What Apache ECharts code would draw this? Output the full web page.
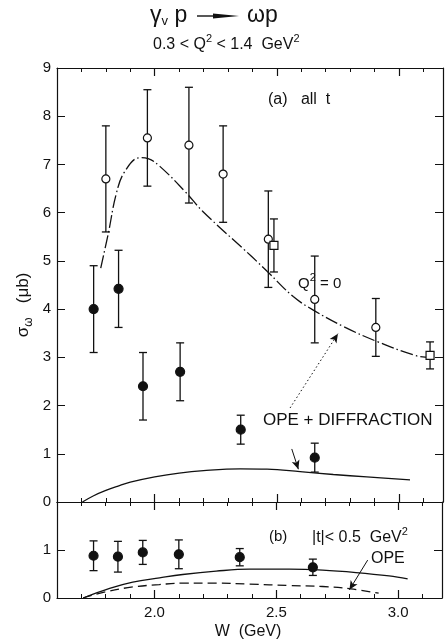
<!DOCTYPE html>
<html>
<head>
<meta charset="utf-8">
<script src="https://cdn.jsdelivr.net/npm/echarts@6/dist/echarts.min.js"></script>
<style>
html, body { margin: 0; padding: 0; background: #fff; }
#main { width: 445px; height: 643px; }
</style>
</head>
<body>
<div id="main"></div>
<script>
/* ---------------- data ---------------- */
// (a) 0.3 < Q2 < 1.4, open circles
var openW = [1.80, 1.97, 2.14, 2.28, 2.465, 2.655, 2.905];
var openS = [6.70, 7.55, 7.40, 6.80, 5.45, 4.20, 3.62];
var openErr = [1.10, 1.00, 1.20, 1.00, 1.00, 0.90, 0.60];
// (a) Q2 = 0, open squares
var sqW = [2.488, 3.127];
var sqS = [5.32, 3.04];
var sqErr = [0.55, 0.28];
// (a) filled circles
var fillW = [1.75, 1.852, 1.952, 2.104, 2.352, 2.655];
var fillS = [4.00, 4.42, 2.40, 2.70, 1.50, 0.92];
var fillErr = [0.90, 0.80, 0.70, 0.60, 0.30, 0.30];
// (b) |t| < 0.5
var bW = [1.75, 1.85, 1.952, 2.10, 2.35, 2.65];
var bS = [0.88, 0.86, 0.95, 0.91, 0.85, 0.64];
var bErr = [0.31, 0.32, 0.25, 0.30, 0.18, 0.17];
// curves
var diffW = [1.779, 1.81, 1.843, 1.877, 1.939, 1.973, 2.021, 2.124, 2.198, 2.397, 2.461, 2.567, 2.649, 2.772, 2.909, 3.073, 3.127];
var diffS = [4.85, 5.57, 6.40, 6.85, 7.14, 7.12, 6.96, 6.44, 6.02, 5.09, 4.78, 4.26, 3.98, 3.64, 3.33, 3.03, 3.00];
var opeAW = [1.704, 1.75, 1.80, 1.85, 1.90, 2.0, 2.1, 2.2, 2.35, 2.46, 2.595, 2.731, 2.868, 3.045];
var opeAS = [0.0, 0.13, 0.24, 0.33, 0.41, 0.52, 0.60, 0.65, 0.685, 0.68, 0.63, 0.57, 0.52, 0.46];
var totBW = [1.707, 1.816, 1.911, 2.021, 2.116, 2.253, 2.39, 2.553, 2.69, 2.827, 2.963, 3.039];
var totBS = [0.0, 0.20, 0.33, 0.42, 0.49, 0.56, 0.60, 0.60, 0.58, 0.53, 0.46, 0.40];
var opeBW = [1.707, 1.80, 1.911, 2.02, 2.116, 2.253, 2.39, 2.553, 2.69, 2.806, 2.92];
var opeBS = [0.0, 0.13, 0.23, 0.28, 0.31, 0.31, 0.29, 0.26, 0.24, 0.19, 0.10];
var xMajor = [2.0, 2.5, 3.0];

var ink = '#111';
var font = 'Liberation Sans';

function zip(a, b, c) {
  return a.map(function (v, i) { return c ? [v, b[i], c[i]] : [v, b[i]]; });
}

// x axes: main (minor ticks every 0.1) + overlay with long major ticks
function xAxes(grid, pos, labels) {
  return [{
    type: 'value', gridIndex: grid, position: pos, min: 1.6, max: 3.18, interval: 0.1,
    axisLine: { show: true, lineStyle: { color: ink, width: 1.2 } },
    axisTick: { show: true, inside: true, length: 4, lineStyle: { color: ink, width: 1 } },
    axisLabel: {
      show: labels, color: ink, fontSize: 15, fontFamily: font, margin: 7,
      formatter: function (v) {
        for (var i = 0; i < xMajor.length; i++) if (Math.abs(v - xMajor[i]) < 1e-6) return v.toFixed(1);
        return '';
      }
    },
    splitLine: { show: false }
  }, {
    type: 'value', gridIndex: grid, position: pos, min: 1.6, max: 3.18, interval: 0.1,
    axisLine: { show: false },
    axisTick: { show: true, inside: true, length: 8, customValues: xMajor, lineStyle: { color: ink, width: 1.2 } },
    axisLabel: { show: false },
    splitLine: { show: false }
  }];
}

function yAxis(grid, pos, max, labels) {
  return {
    type: 'value', gridIndex: grid, position: pos, min: 0, max: max, interval: 1,
    axisLine: { show: true, lineStyle: { color: ink, width: 1.2 } },
    axisTick: { show: true, inside: true, length: 8, lineStyle: { color: ink, width: 1 } },
    axisLabel: {
      show: labels, color: ink, fontSize: 15, fontFamily: font, margin: 6,
      formatter: function (v) { return (grid === 1 && v === 2) ? '' : String(v); }
    },
    splitLine: { show: false }
  };
}

function errBars(data, xi, yi) {
  return {
    type: 'custom', xAxisIndex: xi, yAxisIndex: yi, data: data, z: 2,
    renderItem: function (params, api) {
      var x = api.value(0), y = api.value(1), e = api.value(2);
      var t = api.coord([x, y + e]), b = api.coord([x, y - e]);
      var st = { stroke: ink, lineWidth: 1.3 };
      return {
        type: 'group', children: [
          { type: 'line', shape: { x1: t[0], y1: t[1], x2: b[0], y2: b[1] }, style: st },
          { type: 'line', shape: { x1: t[0] - 4, y1: t[1], x2: t[0] + 4, y2: t[1] }, style: st },
          { type: 'line', shape: { x1: b[0] - 4, y1: b[1], x2: b[0] + 4, y2: b[1] }, style: st }
        ]
      };
    }
  };
}

function pts(data, xi, yi, symbol, size, fill) {
  return {
    type: 'scatter', xAxisIndex: xi, yAxisIndex: yi, data: data, z: 3,
    symbol: symbol, symbolSize: size,
    itemStyle: { color: fill, borderColor: ink, borderWidth: 1.2, opacity: 1 }
  };
}

function curve(data, xi, yi, type, extra) {
  var s = {
    type: 'line', xAxisIndex: xi, yAxisIndex: yi, data: data, smooth: 0.4,
    showSymbol: false, symbol: 'none', z: 1,
    lineStyle: { color: ink, width: 1.3, type: type }
  };
  if (extra) s.markLine = extra;
  return s;
}

function arrowLine(from, to, type) {
  return {
    silent: true, symbol: ['none', 'arrow'], symbolSize: [6, 9], label: { show: false },
    lineStyle: { color: ink, width: 1, type: type },
    data: [[{ coord: from }, { coord: to }]]
  };
}

function txt(x, y, text, size, rich, align) {
  var st = { text: text, x: 0, y: 0, fill: ink, font: size + 'px "' + font + '"', textVerticalAlign: 'middle', textAlign: align || 'left' };
  if (rich) st.rich = rich;
  return { type: 'text', x: x, y: y, style: st, z: 10 };
}

var sup = { fontSize: 11, fontFamily: font, verticalAlign: 'top', lineHeight: 11, fill: ink };
var nrm = function (s) { return { fontSize: s, fontFamily: font, verticalAlign: 'bottom', lineHeight: s + 4, fill: ink }; };

var yName = txt(25, 305, '{n|σ}{s|ω}{n|   (μb)}', 16, {
  n: { fontSize: 17, fontFamily: font, verticalAlign: 'top', lineHeight: 20, fill: ink },
  s: { fontSize: 12, fontFamily: font, verticalAlign: 'bottom', lineHeight: 12, fill: ink }
}, 'center');
yName.rotation = Math.PI / 2;

var chart = echarts.init(document.getElementById('main'));
var option = {
  animation: false,
  backgroundColor: '#fff',
  grid: [
    { left: 57, top: 68, width: 386, height: 434 },
    { left: 57, top: 502, width: 386, height: 96 }
  ],
  xAxis: [].concat(xAxes(0, 'bottom', false), xAxes(0, 'top', false), xAxes(1, 'bottom', true), xAxes(1, 'top', false)),
  yAxis: [yAxis(0, 'left', 9, true), yAxis(0, 'right', 9, false), yAxis(1, 'left', 2, true), yAxis(1, 'right', 2, false)],
  series: [
    curve(zip(diffW, diffS), 0, 0, [13, 3, 1.5, 3], arrowLine([2.554, 1.95], [2.75, 3.49], [1.5, 2.5])),
    curve(zip(opeAW, opeAS), 0, 0, 'solid', arrowLine([2.561, 1.10], [2.588, 0.68], 'solid')),
    errBars(zip(openW, openS, openErr), 0, 0),
    errBars(zip(sqW, sqS, sqErr), 0, 0),
    errBars(zip(fillW, fillS, fillErr), 0, 0),
    pts(zip(openW, openS), 0, 0, 'circle', 8, '#fff'),
    pts(zip(sqW, sqS), 0, 0, 'rect', 8, '#fff'),
    pts(zip(fillW, fillS), 0, 0, 'circle', 9, ink),
    curve(zip(totBW, totBS), 4, 2, 'solid'),
    curve(zip(opeBW, opeBS), 4, 2, [9, 5], arrowLine([2.875, 0.79], [2.80, 0.17], 'solid')),
    errBars(zip(bW, bS, bErr), 4, 2),
    pts(zip(bW, bS), 4, 2, 'circle', 9, ink)
  ],
  graphic: [
    // title: gamma_v p -> omega p
    txt(150, 16, '{g|γ}{s|v}{g| p}', 22, { g: { fontSize: 23, fontFamily: font, verticalAlign: 'top', lineHeight: 24, fill: ink }, s: { fontSize: 13, fontFamily: font, verticalAlign: 'bottom', lineHeight: 13, fill: ink } }),
    { type: 'line', shape: { x1: 197, y1: 16, x2: 228, y2: 16 }, style: { stroke: ink, lineWidth: 1.4 }, z: 10 },
    { type: 'polygon', shape: { points: [[213, 13.5], [239, 16], [213, 18.5]] }, style: { fill: ink }, z: 10 },
    txt(247, 16, 'ωp', 23),
    txt(153, 43, '{n|0.3 < Q}{p|2}{n| < 1.4  GeV}{p|2}', 16, { n: nrm(16), p: sup }),
    txt(268, 100, '(a)   all  t', 16),
    txt(298, 282, '{n|Q}{p|2}{n| = 0}', 15, { n: nrm(15), p: sup }),
    txt(263, 420, 'OPE + DIFFRACTION', 17),
    txt(269, 537, '(b)', 15),
    txt(312, 536, '{n||t|< 0.5  GeV}{p|2}', 16, { n: nrm(16), p: sup }),
    txt(371, 559, 'OPE', 16),
    txt(248, 632, 'W  (GeV)', 16, null, 'center'),
    yName
  ]
};
chart.setOption(option);
window.onresize = function () { chart.resize(); };
</script>
</body>
</html>
